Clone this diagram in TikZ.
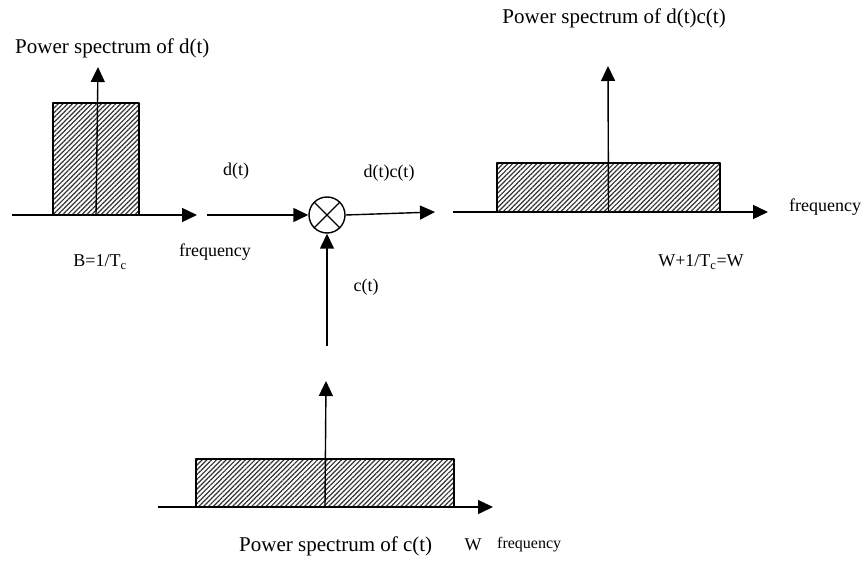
\documentclass[tikz,border=0pt]{standalone}
\usepackage{fontspec}
\setmainfont{Liberation Serif}
\usetikzlibrary{arrows.meta,patterns.meta}

\begin{document}
\begin{tikzpicture}[x=1pt,y=-1pt,line join=round,font=\fontsize{18}{20}\selectfont,
    asse/.style={line width=1.4pt,-{Triangle[length=15pt,width=14pt]}},
    banda/.style={draw,line width=1.4pt,inner sep=0pt,outer sep=0pt,
      pattern={Lines[angle=45,distance=3.4pt,line width=1.2pt]},pattern color=black!80},
    titolo/.style={font=\fontsize{21}{24}\selectfont,inner sep=0pt},
    etichetta/.style={inner sep=0pt},
    molt/.style={circle,draw,line width=1.4pt,minimum size=36pt,inner sep=0pt}]

  \useasboundingbox (0,0) rectangle (867,561);

  % ---- spettro di d(t) ----------------------------------------------------
  \node[banda,anchor=south west,minimum width=86pt,minimum height=112pt] (bd) at (53,215) {};
  \coordinate (d0) at (12,215);
  \coordinate (d1) at (197,215);
  \coordinate (dv) at (98,67);
  \draw[asse] (d0) -- (d1);
  \draw[asse] (bd.south) -- (dv);
  \node[titolo,anchor=west] (td) at (15,48) {Power spectrum of d(t)};
  \node[etichetta] (lb) at (100,262) {B=1/T\textsubscript{c}};

  % ---- il moltiplicatore --------------------------------------------------
  \node[molt] (mx) at (327,215) {};
  \draw[line width=1.4pt] (mx.north west) -- (mx.south east);
  \draw[line width=1.4pt] (mx.north east) -- (mx.south west);
  \coordinate (din) at (207,215);
  \coordinate (dout) at (435,212);
  \coordinate (cin) at (327,346);
  \draw[asse] (din) -- (mx.west);
  \draw[asse] (mx.east) -- (dout);
  \draw[asse] (cin) -- (mx.south);
  \node[etichetta] (ld) at (236,171) {d(t)};
  \node[etichetta] (ldc) at (389,173) {d(t)c(t)};
  \node[etichetta] (lf1) at (215,252) {frequency};
  \node[etichetta] (lc) at (366,287) {c(t)};

  % ---- spettro di d(t)c(t) ------------------------------------------------
  \node[banda,anchor=south west,minimum width=223pt,minimum height=49pt] (bdc) at (497,212) {};
  \coordinate (e0) at (453,212);
  \coordinate (e1) at (768,212);
  \coordinate (ev) at (608,66);
  \draw[asse] (e0) -- (e1);
  \draw[asse] (bdc.south) -- (ev);
  \node[titolo,anchor=east] (tdc) at (726,18) {Power spectrum of d(t)c(t)};
  \node[etichetta,anchor=west] (lf2) at (789,207) {frequency};
  \node[etichetta] (lw) at (701,262) {W+1/T\textsubscript{c}=W};

  % ---- spettro di c(t) ----------------------------------------------------
  \node[banda,anchor=south west,minimum width=258pt,minimum height=48pt] (bc) at (196,507) {};
  \coordinate (c0) at (158,507);
  \coordinate (c1) at (493,507);
  \coordinate (cv) at (326,381);
  \draw[asse] (c0) -- (c1);
  \draw[asse] (bc.south) -- (cv);
  \node[titolo,anchor=west] (tc) at (239,546) {Power spectrum of c(t)};
  \node[etichetta] (lw2) at (473,545) {W};
  \node[etichetta,anchor=west,font=\fontsize{16}{18}\selectfont] (lf3) at (497,545) {frequency};

\end{tikzpicture}
\end{document}
